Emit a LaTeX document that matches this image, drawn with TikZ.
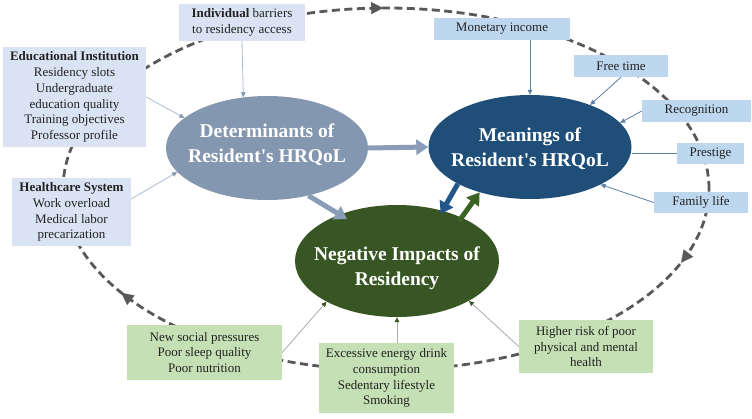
\documentclass[tikz,border=0pt]{standalone}
\usepackage{fontspec}
\setmainfont{Liberation Serif}
\usetikzlibrary{arrows.meta,shapes.geometric,calc}
\definecolor{detc}{HTML}{8497B0}
\definecolor{meanc}{HTML}{1F4E79}
\definecolor{negc}{HTML}{375623}
\definecolor{boxL}{HTML}{DAE3F3}
\definecolor{boxR}{HTML}{BDD7EE}
\definecolor{boxG}{HTML}{C5E0B4}
\definecolor{loopc}{HTML}{595959}
\definecolor{txt}{HTML}{222222}
\definecolor{thinL}{HTML}{AEBBD0}
\definecolor{thinR}{HTML}{5B80A8}
\definecolor{thinG}{HTML}{A8ADA2}
\definecolor{arrDet}{HTML}{8A9DB8}
\definecolor{arrMean}{HTML}{23568A}
\definecolor{arrNeg}{HTML}{3B6324}
\begin{document}
\begin{tikzpicture}[x=1pt,y=-1pt,
  bx/.style={rectangle, inner sep=0pt, align=center, text=txt, font=\fontsize{13}{15.8}\selectfont},
  ell/.style={ellipse, inner sep=0pt, draw=none},
  elltext/.style={align=center, text=white, inner sep=0pt, font=\fontsize{19.5}{25}\selectfont\bfseries},
  loopline/.style={draw=loopc, line width=2.8pt, dash pattern=on 8pt off 4.5pt},
  looptip/.style={draw=loopc, line width=0.1pt, -{Triangle[length=12pt,width=12pt,color=loopc]}},
  thinLarr/.style={draw=thinL, line width=0.8pt, -{Triangle[length=5pt,width=4.5pt,color=detc]}},
  thinRarr/.style={draw=thinR, line width=0.8pt, -{Triangle[length=5pt,width=4.5pt,color=thinR]}},
  thinGarr/.style={draw=thinG, line width=0.8pt, -{Triangle[length=5pt,width=4.5pt,color=negc]}},
  bigarr/.style={line width=5pt, -{Triangle[length=12pt,width=15pt]}}
]
\useasboundingbox (0,0) rectangle (752,418);
\fill[white] (0,0) rectangle (752,418);

% dashed loop
\draw[loopline] (386,189) ellipse [x radius=323pt, y radius=181pt];
\coordinate (ta1) at ({386+323*cos(268.5)},{189+181*sin(268.5)});
\coordinate (ta2) at ({386+323*cos(269.5)},{189+181*sin(269.5)});
\coordinate (ra1) at ({386+323*cos(23)},{189+181*sin(23)});
\coordinate (ra2) at ({386+323*cos(24)},{189+181*sin(24)});
\coordinate (la1) at ({386+323*cos(144)},{189+181*sin(144)});
\coordinate (la2) at ({386+323*cos(145)},{189+181*sin(145)});
\draw[looptip] (ta1) -- (ta2);
\draw[looptip] (ra1) -- (ra2);
\draw[looptip] (la1) -- (la2);

% ellipses
\node[ell, fill=detc, minimum width=202pt, minimum height=104pt] (det) at (267,148) {};
\node[ell, fill=meanc, minimum width=203pt, minimum height=104pt] (mean) at (530,147) {};
\node[ell, fill=negc, minimum width=204pt, minimum height=112pt] (neg) at (397,261) {};
\node[elltext] (dett) at ($(det)+(0,-3)$) {Determinants of\\Resident\textquotesingle s HRQoL};
\node[elltext] (meant) at ($(mean)+(0,2)$) {Meanings of\\Resident\textquotesingle s HRQoL};
\node[elltext] (negt) at ($(neg)+(0,7)$) {Negative Impacts of\\Residency};

% left boxes
\node[bx, fill=boxL, minimum width=126pt, minimum height=37pt] (ind) at (242,22.5) {\textbf{Individual} barriers\\to residency access};
\node[bx, fill=boxL, minimum width=143pt, minimum height=100pt] (edu) at (74.5,97) {\textbf{Educational Institution}\\Residency slots\\Undergraduate\\education quality\\Training objectives\\Professor profile};
\node[bx, fill=boxL, minimum width=119pt, minimum height=68pt] (hc) at (71.5,212) {\textbf{Healthcare System}\\Work overload\\Medical labor\\precarization};

% right boxes
\node[bx, fill=boxR, minimum width=136pt, minimum height=22pt] (mon) at (502,29) {Monetary income};
\node[bx, fill=boxR, minimum width=94pt, minimum height=22pt] (free) at (621,66) {Free time};
\node[bx, fill=boxR, minimum width=109pt, minimum height=22pt] (rec) at (696.5,111) {Recognition};
\node[bx, fill=boxR, minimum width=67pt, minimum height=21pt] (pres) at (710.5,153.5) {Prestige};
\node[bx, fill=boxR, minimum width=94pt, minimum height=21pt] (fam) at (701,202.5) {Family life};

% bottom boxes
\node[bx, fill=boxG, minimum width=155pt, minimum height=55pt] (nsp) at (204.5,352.5) {New social pressures\\Poor sleep quality\\Poor nutrition};
\node[bx, fill=boxG, minimum width=135pt, minimum height=70pt] (exc) at (386.5,378) {Excessive energy drink\\consumption\\Sedentary lifestyle\\Smoking};
\node[bx, fill=boxG, minimum width=134pt, minimum height=53pt] (hr) at (586,346.5) {Higher risk of poor\\physical and mental\\health};

% thin connectors
\draw[thinLarr] (ind.south) -- (det.115);
\draw[thinLarr] (edu.east) -- (det.160);
\draw[thinLarr] ($(hc.north east)!0.31!(hc.south east)$) -- (det.195);

\draw[thinRarr] (mean.north |- mon.south) -- (mean.north);
\draw[thinRarr] (free.south) -- (mean.35);
\draw[thinRarr] (rec.west) -- (mean.15);
\draw[draw=thinR, line width=0.8pt] (pres.west) -- (pres.west -| mean.east);
\draw[thinRarr] (fam.west) -- (mean.332);

\draw[thinGarr] (nsp.east) -- (neg.210);
\draw[thinGarr] (neg.south |- exc.north) -- (neg.south);
\draw[thinGarr] (hr.west) -- (neg.331);

% thick arrows
\draw[bigarr, arrDet] (det.east) -- (mean.west);
\draw[bigarr, arrDet] (det.311) -- ($(neg.140)+(6,5)$);
\draw[bigarr, arrMean] (mean.207) -- ($(neg.47)+(-3,3)$);
\draw[bigarr, arrNeg] ($(neg.33)+(-4,3)$) -- (mean.222);
\end{tikzpicture}
\end{document}
